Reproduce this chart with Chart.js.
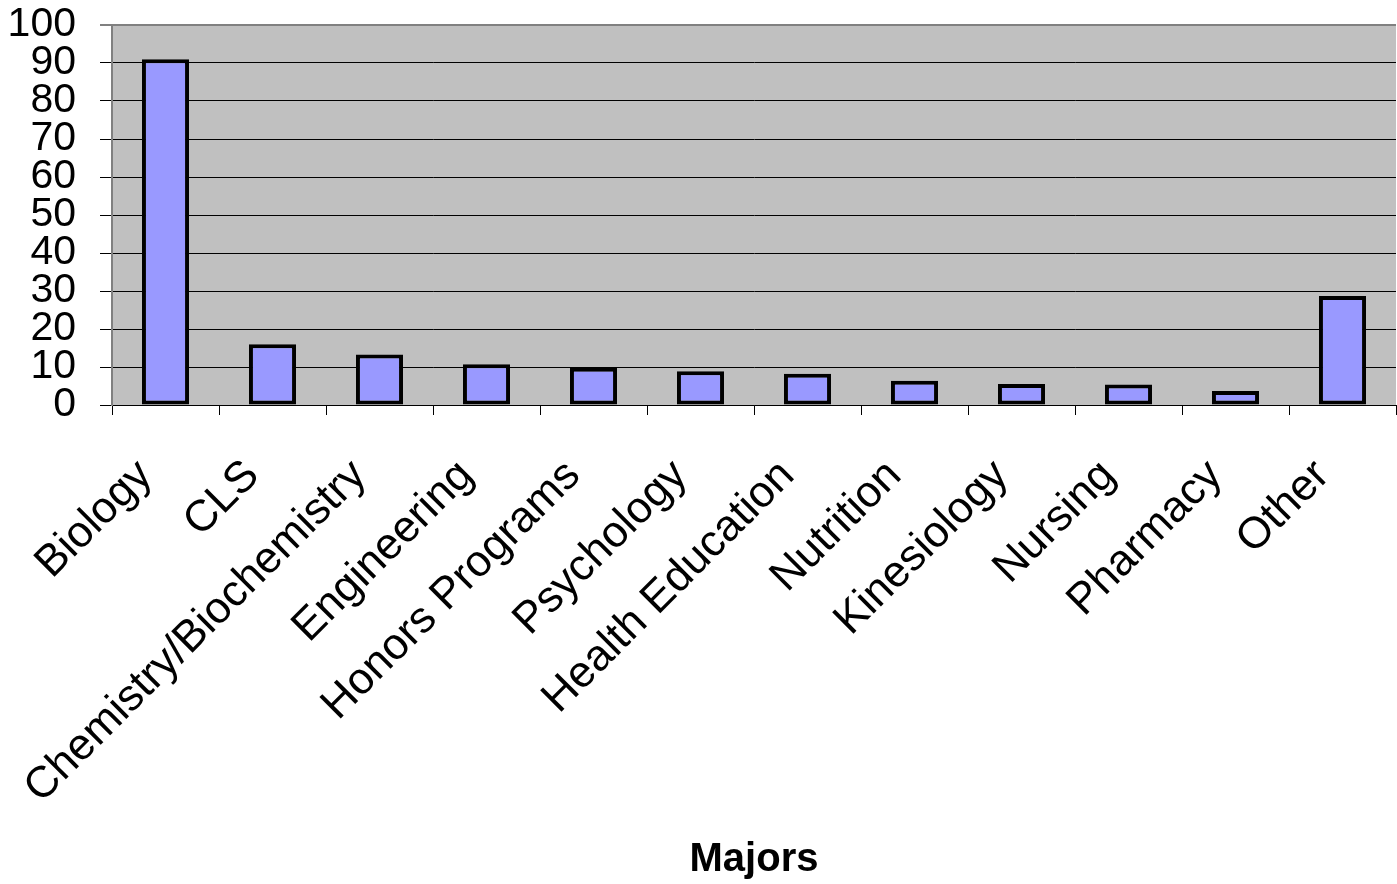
<!DOCTYPE html>
<html>
<head>
<meta charset="utf-8">
<script src="https://cdn.jsdelivr.net/npm/chart.js@4/dist/chart.umd.min.js"></script>
<style>
  html, body { margin: 0; padding: 0; background: #fff; }
  #wrap { width: 1397px; height: 884px; }
</style>
</head>
<body>
<div id="wrap"><canvas id="majors" width="1397" height="884"></canvas></div>
<script>
const majors = ["Biology", "CLS", "Chemistry/Biochemistry", "Engineering", "Honors Programs",
  "Psychology", "Health Education", "Nutrition", "Kinesiology", "Nursing", "Pharmacy", "Other"];
const students = [91, 16, 13.3, 10.7, 9.8, 8.9, 8.2, 6.4, 5.5, 5.4, 3.7, 28.7];
const yTicks = [0, 10, 20, 30, 40, 50, 60, 70, 80, 90, 100];

const FONT = "'Liberation Sans', Arial, sans-serif";

// grey plot background, like the old spreadsheet charts
const plotBg = {
  id: "plotBg",
  beforeDraw(chart) {
    const { ctx, chartArea: a } = chart;
    ctx.save();
    ctx.fillStyle = "#c0c0c0";
    ctx.fillRect(a.left, a.top, a.right - a.left, a.bottom - a.top);
    ctx.restore();
  }
};

new Chart(document.getElementById("majors"), {
  type: "bar",
  data: {
    labels: majors,
    datasets: [{
      data: students,
      backgroundColor: "#9999ff",
      borderColor: "#000",
      borderWidth: 4,
      borderSkipped: false,
      barPercentage: 0.44,
      categoryPercentage: 1
    }]
  },
  options: {
    responsive: false,
    animation: false,
    layout: { padding: { top: 25, right: 1, left: 0, bottom: 0 } },
    plugins: {
      legend: { display: false },
      tooltip: { enabled: false }
    },
    scales: {
      x: {
        afterFit: s => { s.height = 479; s.paddingLeft = 0; s.paddingRight = 0; },
        grid: {
          drawOnChartArea: false,
          color: "#000",
          tickLength: 10,
          lineWidth: 1
        },
        border: { color: "#000", width: 1 },
        ticks: {
          autoSkip: false,
          minRotation: 45,
          maxRotation: 45,
          padding: 35,
          labelOffset: -20,
          color: "#000",
          font: { family: FONT, size: 44 }
        },
        title: {
          display: true,
          text: "Majors",
          color: "#000",
          padding: 0,
          font: { family: FONT, size: 40, weight: "bold" }
        }
      },
      y: {
        min: 0,
        max: 100,
        afterFit: s => { s.width = 112; s.paddingTop = 0; s.paddingBottom = 0; },
        afterBuildTicks: s => { s.ticks = yTicks.map(v => ({ value: v })); },
        grid: {
          color: c => c.tick && c.tick.value === 100 ? "#808080" : "#000",
          lineWidth: c => c.tick && c.tick.value === 100 ? 2 : 1,
          tickLength: 12
        },
        border: { color: "#808080", width: 2 },
        ticks: {
          autoSkip: false,
          padding: 24,
          color: "#000",
          font: { family: FONT, size: 41 }
        }
      }
    }
  },
  plugins: [plotBg]
});
</script>
</body>
</html>
